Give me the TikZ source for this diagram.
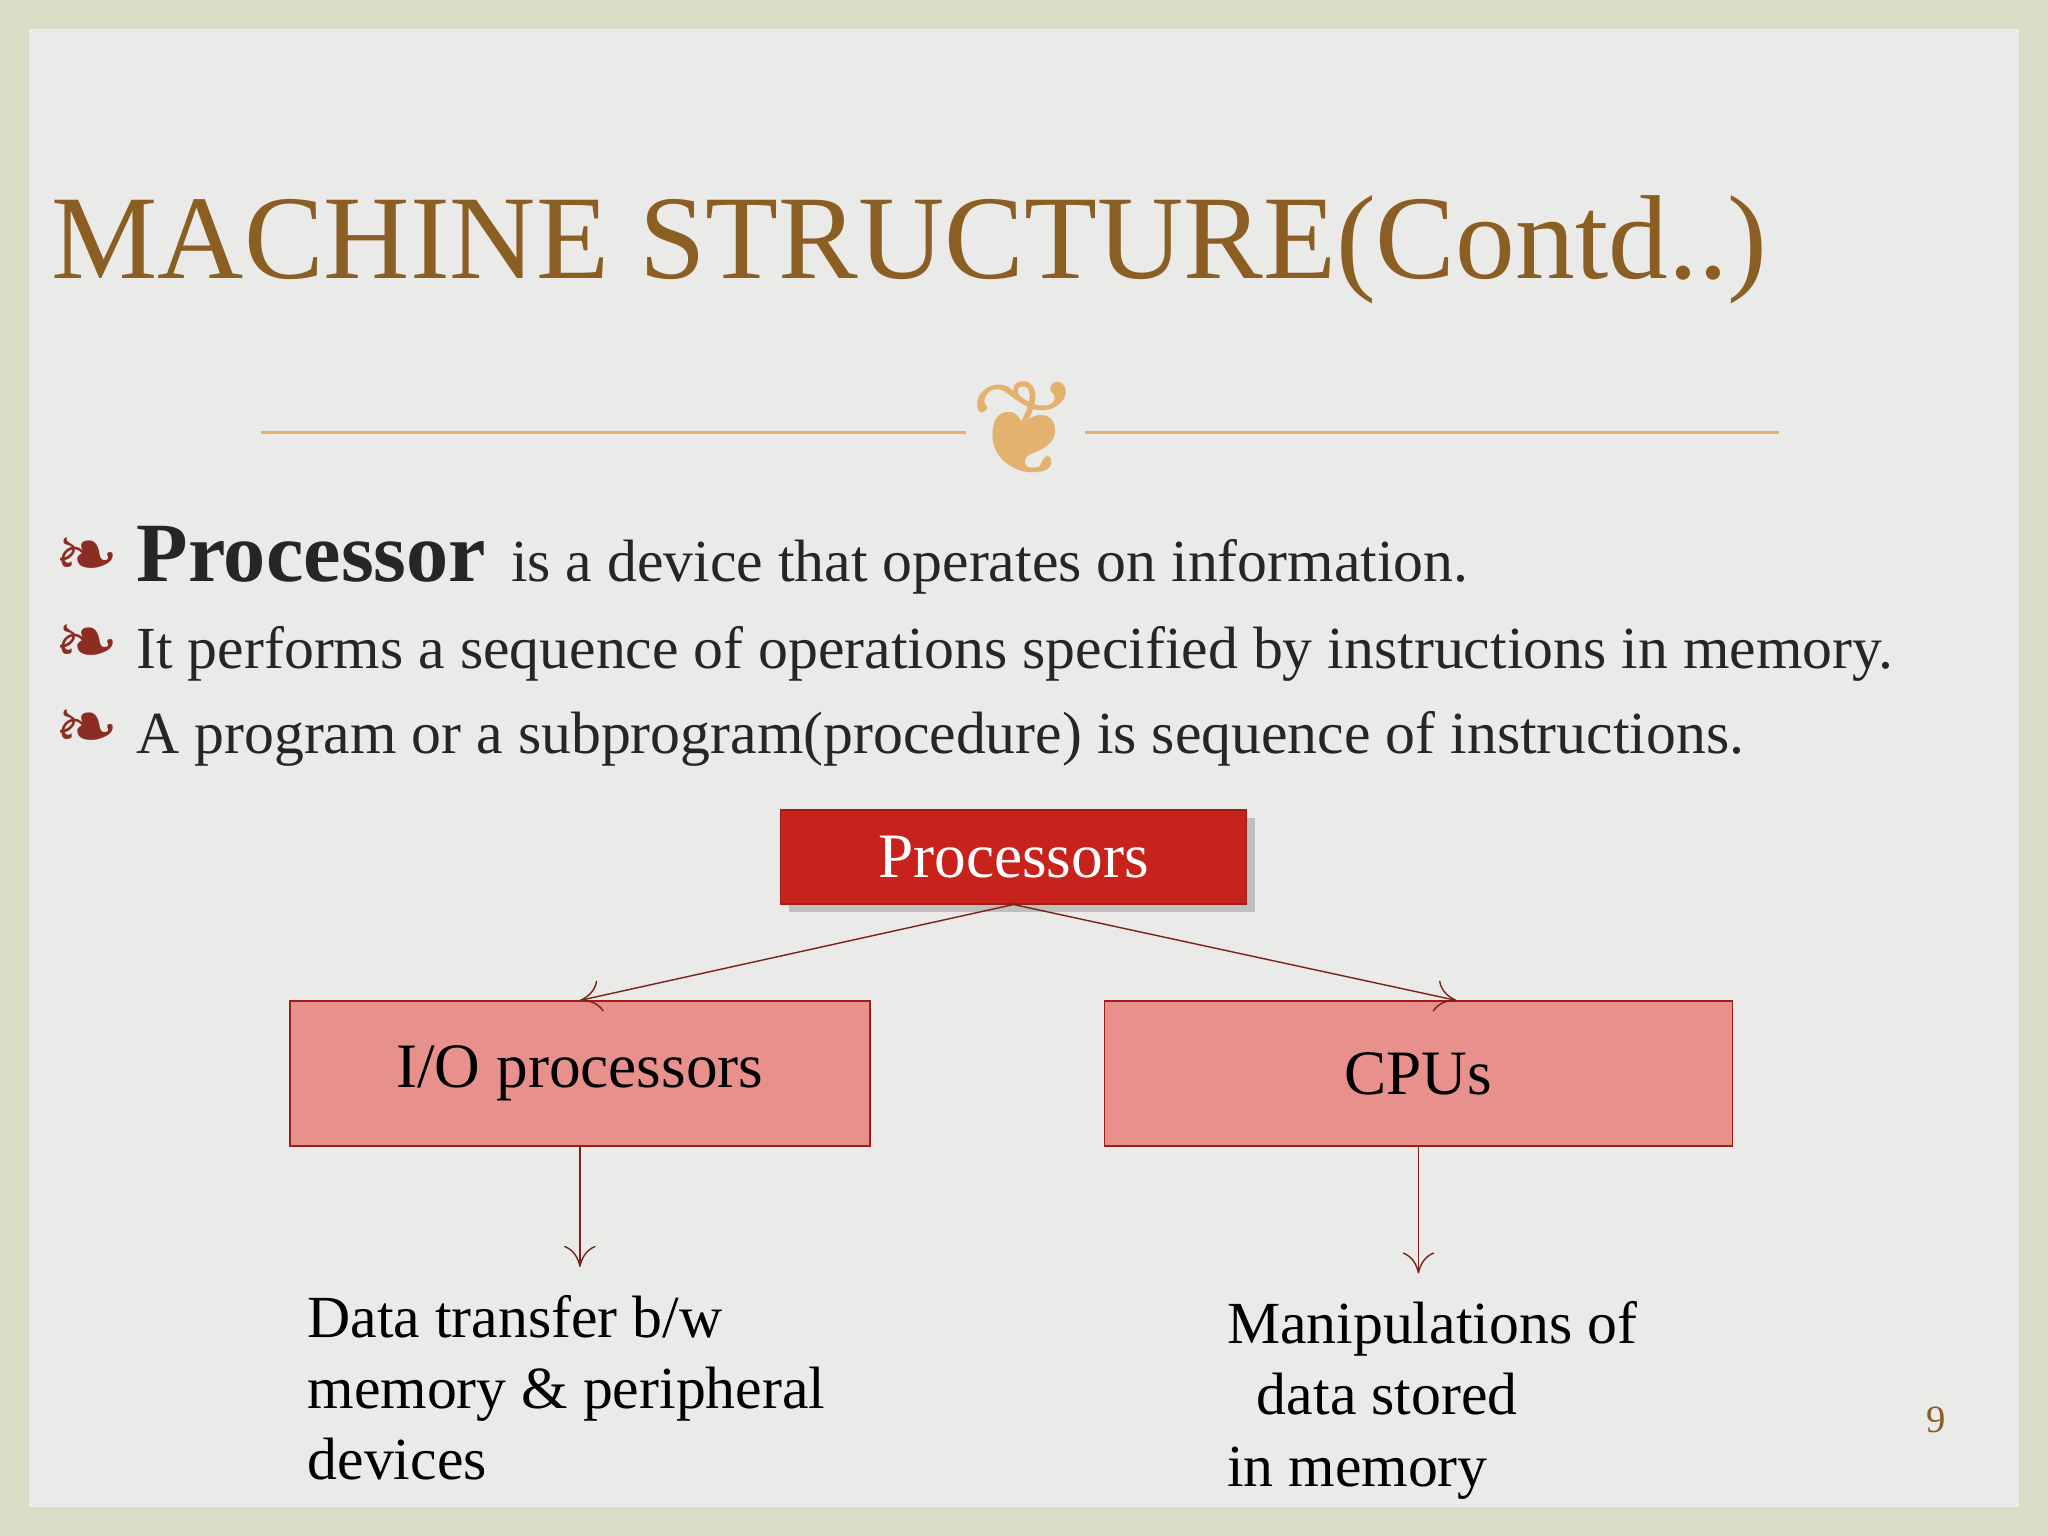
\documentclass[tikz,border=0pt]{standalone}
\usepackage{fontspec}
\setmainfont{Liberation Serif}
\newfontfamily\symfont{DejaVu Sans}
\usetikzlibrary{arrows.meta,positioning,shadows}
\definecolor{titlebrown}{RGB}{139,94,36}
\definecolor{rulegold}{RGB}{226,178,110}
\definecolor{bulletred}{RGB}{140,45,35}
\definecolor{boxred}{RGB}{200,34,28}
\definecolor{boxpink}{RGB}{232,144,140}
\definecolor{edgered}{RGB}{160,30,24}
\definecolor{arrowred}{RGB}{120,35,25}
\definecolor{slidegray}{RGB}{234,234,232}
\definecolor{framegreen}{RGB}{218,220,200}
\tikzset{
  bullet/.style={anchor=base west, text=bulletred, font=\symfont\fontsize{22}{22}\selectfont},
  bodytext/.style={anchor=base west, text=black!85, font=\fontsize{17}{20}\selectfont},
  topbox/.style={draw=edgered, fill=boxred, text=white, minimum width=4.66cm, minimum height=0.94cm,
    font=\fontsize{18}{20}\selectfont, drop shadow={opacity=.4}},
  subbox/.style={draw=edgered, fill=boxpink, minimum width=5.8cm, minimum height=1.45cm, font=\fontsize{18}{20}\selectfont},
  notetext/.style={anchor=north west, align=left, font=\fontsize{17}{20.3}\selectfont},
  link/.style={draw=arrowred, -{To[length=6pt,width=9pt]}}
}
\begin{document}
\begin{tikzpicture}[x=0.01306cm,y=-0.01306cm]
  \useasboundingbox (0,0) rectangle (1568,1176);
  % background
  \fill[framegreen] (0,0) rectangle (1568,1176);
  \fill[slidegray] (22,22) rectangle (1546,1154);
  % title and rule
  \node[anchor=base west, text=titlebrown, font=\fontsize{34}{36}\selectfont] (title) at (30,213) {MACHINE STRUCTURE(Contd..)};
  \draw[rulegold, thick] (200,331) -- (1362,331);
  \node[text=rulegold, fill=slidegray, inner sep=1pt, font=\symfont\fontsize{38}{38}\selectfont] (orn) at (785,328) {❦};
  % bullets
  \node[bullet] (b1) at (32,445) {❧};
  \node[anchor=base west, font=\bfseries\fontsize{24}{26}\selectfont, text=black!85] (proc) at (95,445) {Processor};
  \node[bodytext, anchor=base west] (l1) at (proc.base east) {is a device that operates on information.};
  \node[bullet] (b2) at (32,512) {❧};
  \node[bodytext] (l2) at (95,512) {It performs a sequence of operations specified by instructions in memory.};
  \node[bullet] (b3) at (32,577) {❧};
  \node[bodytext] (l3) at (95,577) {A program or a subprogram(procedure) is sequence of instructions.};
  % diagram
  \node[topbox] (top) at (776,656) {Processors};
  \node[subbox] (io) at (444,822) {I/O processors};
  \node[subbox, minimum width=6.28cm] (cpu) at (1086,822) {CPUs};
  \draw[link] (top.south) -- (io.north);
  \draw[link] (top.south) -- ([xshift=0.38cm]cpu.north);
  \coordinate (ioend) at (444,970);
  \coordinate (cpuend) at (1086,975);
  \draw[link] (io.south) -- (ioend);
  \draw[link] (cpu.south) -- (cpuend);
  \node[notetext] (iotext) at (226,982) {Data transfer b/w\\memory \& peripheral\\devices};
  \node[notetext] (cputext) at (930,987) {Manipulations of\\\ \ data stored\\in memory};
  \node[text=titlebrown, font=\fontsize{11}{12}\selectfont] (pg) at (1482,1087) {9};
\end{tikzpicture}
\end{document}
